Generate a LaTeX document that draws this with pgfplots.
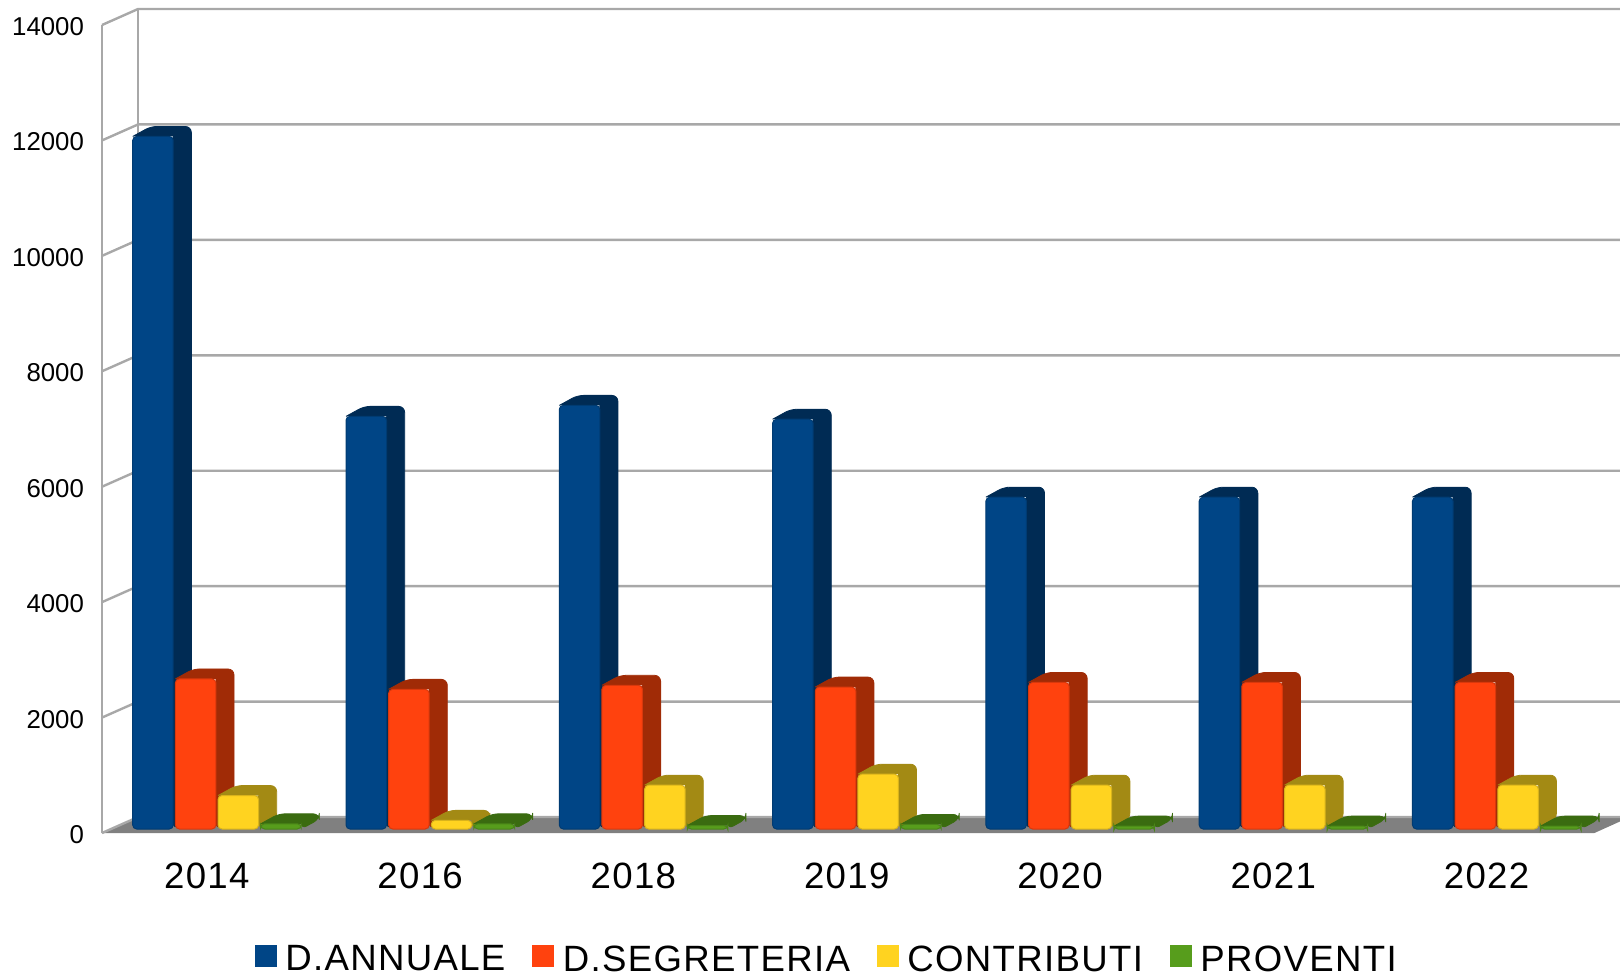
\documentclass[border=0pt]{standalone}
\usepackage{fontspec}
\usepackage{pgfplots}
\usepackage{pgfplotstable}
\pgfplotsset{compat=1.18}
\setmainfont{Liberation Sans}
\newfontfamily\spaced[LetterSpace=3.6]{Liberation Sans}

\definecolor{annuale}{HTML}{004586}
\definecolor{annualeD}{HTML}{002B54}
\definecolor{segreteria}{HTML}{FF420E}
\definecolor{segreteriaD}{HTML}{A02B06}
\definecolor{contributi}{HTML}{FFD320}
\definecolor{contributiD}{HTML}{A38A14}
\definecolor{proventi}{HTML}{579D1C}
\definecolor{proventiD}{HTML}{3A6B10}
\definecolor{griglia}{HTML}{A8A8A8}

\pgfplotstableread{
idx annuale segreteria contributi proventi
0   12000   2600       580        90
1   7150    2420       150        90
2   7340    2490       760        60
3   7100    2460       950        80
4   5750    2540       760        50
5   5750    2540       760        50
6   5750    2540       760        50
}\spese

% side and top faces of one series, behind its front bars
\newcommand\facce[3]{%
  \pgfplotsforeachungrouped \i in {0,...,6}{%
    \pgfplotstablegetelem{\i}{#1}\of\spese
    \pgfmathsetmacro\xa{\i+#2-0.095}%
    \pgfmathsetmacro\xb{\i+#2+0.095}%
    \pgfmathsetmacro\xc{\xa+0.085}%
    \pgfmathsetmacro\xd{\xb+0.085}%
    \pgfmathsetmacro\ya{\pgfplotsretval}%
    \pgfmathsetmacro\yb{\ya+173}%
    \edef\temp{\noexpand\addplot[fill=#3,draw=#3,forget plot,rounded corners=3pt,yshift=2pt]
      coordinates {(\xa,\ya)(\xc,\yb)(\xd,\yb)(\xd,173)(\xb,0)(\xb,\ya)};}\temp
  }%
}
\newcommand\fronte[3]{%
  \addplot[ybar,bar width=0.19,bar shift=#2,fill=#3,draw=#3!85!black,line width=0.5pt,
    rounded corners=2pt,yshift=2pt] table[x=idx,y=#1] {\spese};
}

\begin{document}
\begin{tikzpicture}
\useasboundingbox (-51pt,-71.5pt) rectangle (759pt,416.5pt);
\begin{axis}[
  at={(0pt,0pt)},anchor=south west,
  scale only axis,width=759pt,height=404pt,
  xmin=-0.497,xmax=6.62,ymin=0,ymax=14000,
  clip=false,
  axis line style={draw=none},
  tick style={draw=none},major tick length=0pt,
  xtick={0,...,6},
  xticklabels={2014,2016,2018,2019,2020,2021,2022},
  ytick={0,2000,...,14000},
  scaled y ticks=false,
  /pgf/number format/assume math mode=true,
  /pgf/number format/1000 sep={},
  yticklabel style={font=\fontsize{12.9}{14}\selectfont,xshift=-5.5pt,yshift=-0.8pt},
  xticklabel style={font=\spaced\fontsize{18.3}{20}\selectfont,yshift=-11.5pt,xshift=-0.6pt},
  legend columns=4,
  legend style={at={(axis cs:0.218,-2520)},anchor=south west,draw=none,fill=none,inner sep=0pt,
    font=\spaced\fontsize{18.3}{20}\selectfont,
    /tikz/every even column/.append style={column sep=11.5pt}},
  legend image code/.code={\fill[#1,sharp corners,draw=none] (0pt,-5.5pt) rectangle (11pt,5.5pt);\path (13pt,0pt);},
]
% floor and walls
\addplot[fill=gray,draw=none,forget plot] coordinates
  {(-0.497,0)(6.5,0)(6.62,200)(6.62,277)(-0.328,277)};
\draw[griglia,line width=1pt] (axis cs:-0.497,0) -- (axis cs:-0.497,14000);
\draw[griglia,line width=1pt] (axis cs:-0.328,277) -- (axis cs:-0.328,14277);
\pgfplotsinvokeforeach{0,2000,...,14000}{
  \draw[griglia,line width=1.2pt] (axis cs:-0.497,#1) -- (axis cs:-0.328,#1+277) -- (axis cs:6.62,#1+277);
}
\facce{annuale}{-0.258}{annualeD}
\fronte{annuale}{-0.258}{annuale}
\facce{segreteria}{-0.058}{segreteriaD}
\fronte{segreteria}{-0.058}{segreteria}
\facce{contributi}{0.142}{contributiD}
\fronte{contributi}{0.142}{contributi}
\facce{proventi}{0.342}{proventiD}
\fronte{proventi}{0.342}{proventi}
\legend{D.ANNUALE,D.SEGRETERIA,CONTRIBUTI,PROVENTI}
\end{axis}
\end{tikzpicture}
\end{document}
